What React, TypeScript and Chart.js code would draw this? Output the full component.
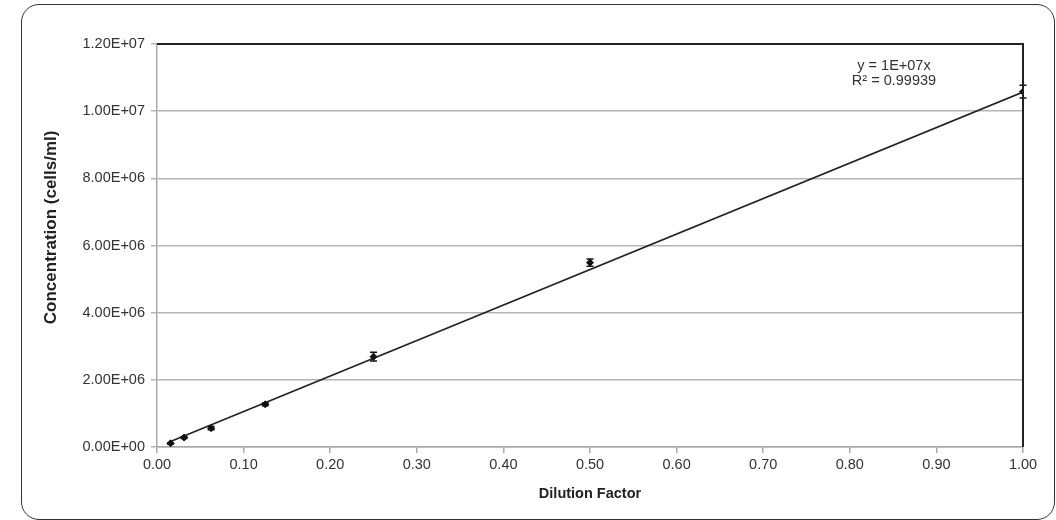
import React, { useEffect, useRef } from "react";
import { Chart, registerables } from "chart.js";

Chart.register(...registerables);

const dilution = [0.015625, 0.03125, 0.0625, 0.125, 0.25, 0.5, 1.0];
const concentration = [1.1e5, 2.8e5, 5.6e5, 1.27e6, 2.69e6, 5.49e6, 1.058e7];
const errors = [2e4, 3e4, 5e4, 4e4, 1.3e5, 1.1e5, 1.9e5];
const trendSlope = 1.057e7;
const equationLines = ["y = 1E+07x", "R² = 0.99939"];
const yTicks = [0, 2e6, 4e6, 6e6, 8e6, 1e7, 1.2e7];
const yTitle = "Concentration (cells/ml)";
const xTitle = "Dilution Factor";

const FONT = "'Liberation Sans', Arial, sans-serif";

function sci(v: number): string {
  if (v === 0) return "0.00E+00";
  const e = Math.floor(Math.log10(Math.abs(v)) + 1e-9);
  const m = v / Math.pow(10, e);
  return m.toFixed(2) + "E" + (e >= 0 ? "+" : "-") + String(Math.abs(e)).padStart(2, "0");
}

const framePlugin = {
  id: "frame",
  afterDatasetsDraw(chart: any) {
    const { ctx, chartArea, scales } = chart;
    const xs = scales.x;
    const ys = scales.y;
    ctx.save();
    // error bars
    ctx.strokeStyle = "#111";
    ctx.lineWidth = 1.5;
    for (let i = 0; i < dilution.length; i++) {
      const px = xs.getPixelForValue(dilution[i]);
      const yTop = ys.getPixelForValue(concentration[i] + errors[i]);
      const yBot = ys.getPixelForValue(concentration[i] - errors[i]);
      ctx.beginPath();
      ctx.moveTo(px, yTop);
      ctx.lineTo(px, yBot);
      ctx.moveTo(px - 3.5, yTop);
      ctx.lineTo(px + 3.5, yTop);
      ctx.moveTo(px - 3.5, yBot);
      ctx.lineTo(px + 3.5, yBot);
      ctx.stroke();
    }
    // top and right plot border
    ctx.strokeStyle = "#222";
    ctx.lineWidth = 2;
    ctx.beginPath();
    ctx.moveTo(chartArea.left, chartArea.top);
    ctx.lineTo(chartArea.right, chartArea.top);
    ctx.lineTo(chartArea.right, chartArea.bottom);
    ctx.stroke();
    // equation text
    ctx.fillStyle = "#333";
    ctx.font = "14.5px " + FONT;
    ctx.textAlign = "center";
    ctx.textBaseline = "middle";
    const cx = chartArea.left + (chartArea.right - chartArea.left) * 0.851;
    ctx.fillText(equationLines[0], cx, chartArea.top + 22);
    ctx.fillText(equationLines[1], cx, chartArea.top + 37);
    // y axis title
    ctx.fillStyle = "#222";
    ctx.font = "bold 17px " + FONT;
    ctx.translate(51, chartArea.top + (chartArea.bottom - chartArea.top) * 0.455);
    ctx.rotate(-Math.PI / 2);
    ctx.fillText(yTitle, 0, 0);
    ctx.restore();
  },
};

export default function App() {
  const ref = useRef<HTMLCanvasElement | null>(null);
  useEffect(() => {
    if (!ref.current) return;
    const trendX = [dilution[0], dilution[dilution.length - 1]];
    const chart = new Chart(ref.current, {
      type: "scatter",
      data: {
        datasets: [
          {
            label: "Concentration",
            data: dilution.map((x, i) => ({ x, y: concentration[i] })),
            pointStyle: "rectRot",
            pointRadius: 3.5,
            backgroundColor: "#111",
            borderColor: "#111",
            showLine: false,
          },
          {
            label: "Trend",
            data: trendX.map((x) => ({ x, y: trendSlope * x })),
            showLine: true,
            pointRadius: 0,
            borderColor: "#222",
            borderWidth: 1.6,
            backgroundColor: "#222",
          } as any,
        ],
      },
      options: {
        animation: false,
        responsive: false,
        layout: { padding: { left: 0, top: 44, right: 33, bottom: 0 } },
        plugins: { legend: { display: false }, tooltip: { enabled: false } },
        scales: {
          x: {
            type: "linear",
            min: 0,
            max: 1,
            afterFit: (s: any) => {
              s.height = 73;
            },
            ticks: {
              stepSize: 0.1,
              callback: (v: any) => Number(v).toFixed(2),
              color: "#333",
              font: { family: FONT, size: 14.5 },
              padding: 3,
            },
            grid: { drawOnChartArea: false, drawTicks: true, tickLength: 6, color: "#aaa", lineWidth: 1.5 },
            border: { color: "#aaa", width: 1.5 },
            title: {
              display: true,
              text: xTitle,
              color: "#222",
              font: { family: FONT, size: 14.5, weight: "bold" },
              padding: { top: 0, bottom: 17 },
            },
          },
          y: {
            type: "linear",
            min: 0,
            max: 1.2e7,
            afterFit: (s: any) => {
              s.width = 157;
            },
            afterBuildTicks: (s: any) => {
              s.ticks = yTicks.map((v) => ({ value: v }));
            },
            ticks: {
              callback: (v: any) => sci(Number(v)),
              color: "#333",
              font: { family: FONT, size: 14.5 },
              padding: 6,
            },
            grid: { color: "#b5b5b5", lineWidth: 1.5, drawTicks: true, tickLength: 6 },
            border: { color: "#aaa", width: 1.5 },
            title: { display: false },
          },
        },
      },
      plugins: [framePlugin],
    });
    return () => chart.destroy();
  }, []);

  return (
    <div style={{ position: "absolute", left: 0, top: 0, width: 1056, height: 520, background: "#fff", overflow: "hidden" }}>
      <div
        style={{
          position: "absolute",
          left: 21,
          top: 4,
          width: 1032,
          height: 514,
          border: "1.5px solid #333",
          borderRadius: 18,
        }}
      />
      <canvas ref={ref} width={1056} height={520} style={{ position: "absolute", left: 0, top: 0 }} />
    </div>
  );
}
